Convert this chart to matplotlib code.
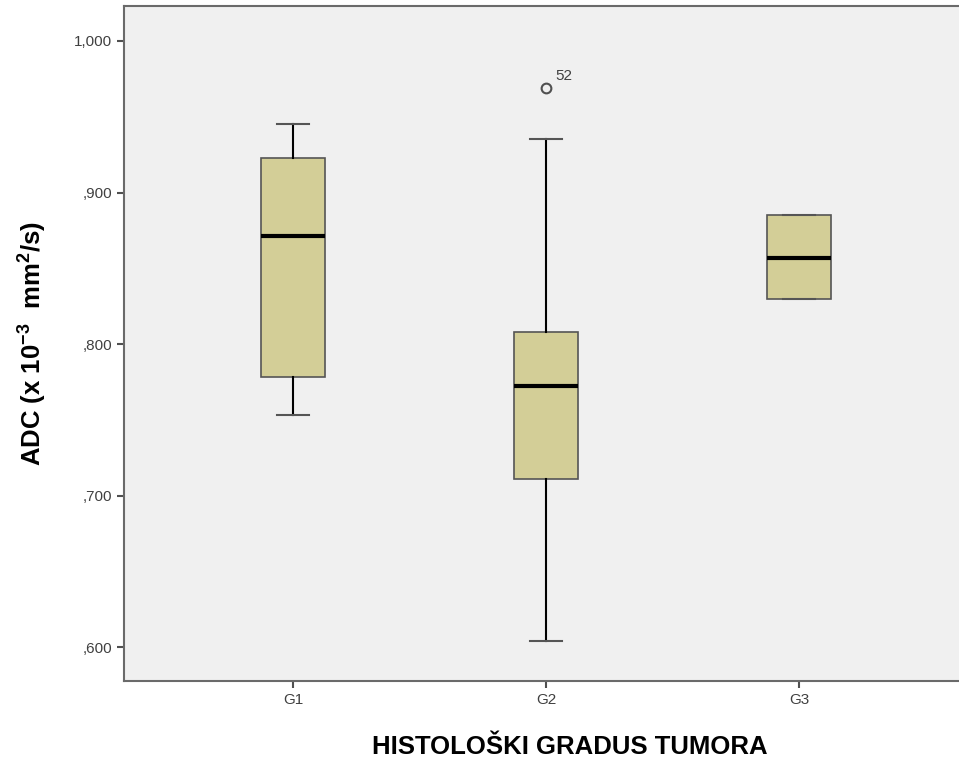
import matplotlib
matplotlib.use("Agg")
import matplotlib.pyplot as plt

categories = ["G1", "G2", "G3"]
whisker_low = [0.753, 0.604, 0.830]
q1 = [0.778, 0.711, 0.830]
median = [0.871, 0.772, 0.857]
q3 = [0.923, 0.808, 0.885]
whisker_high = [0.945, 0.935, 0.885]
outliers = [[], [0.969], []]
outlier_labels = [[], ["52"], []]
yticks = [0.6, 0.7, 0.8, 0.9, 1.0]
ytick_labels = [",600", ",700", ",800", ",900", "1,000"]

plt.rcParams['font.family'] = ['Liberation Sans', 'DejaVu Sans']
plt.rcParams['mathtext.fontset'] = 'custom'
plt.rcParams['mathtext.rm'] = 'Liberation Sans'
plt.rcParams['mathtext.bf'] = 'Liberation Sans:bold'
plt.rcParams['mathtext.default'] = 'bf'

W, H = 959, 761
ax_left, ax_right, ax_top, ax_bottom = 124, 1016, 6, 681

fig = plt.figure(figsize=(W/100, H/100), dpi=100)
ax = fig.add_axes([ax_left/W, (H-ax_bottom)/H, (ax_right-ax_left)/W, (ax_bottom-ax_top)/H])
ax.set_facecolor("#f0f0f0")

stats = []
for i, c in enumerate(categories):
    stats.append(dict(label=c, whislo=whisker_low[i], q1=q1[i], med=median[i],
                      q3=q3[i], whishi=whisker_high[i], fliers=outliers[i]))

positions = list(range(len(categories)))
ax.bxp(stats, positions=positions, widths=0.25, patch_artist=True,
       boxprops=dict(facecolor="#d3ce97", edgecolor="#555555", linewidth=1.2),
       medianprops=dict(color="black", linewidth=3),
       whiskerprops=dict(color="black", linewidth=1.5),
       capprops=dict(color="#555555", linewidth=1.5),
       capwidths=0.125,
       flierprops=dict(marker="o", markerfacecolor="none", markeredgecolor="#505050",
                       markersize=7, markeredgewidth=1.5))

for i, (vals, labs) in enumerate(zip(outliers, outlier_labels)):
    for v, l in zip(vals, labs):
        ax.annotate(l, (positions[i], v), xytext=(7, 6), textcoords="offset points",
                    fontsize=11, color="#404040")

px_per_cat = 253
x_left = (ax_left - 293) / px_per_cat
x_right = (ax_right - 293) / px_per_cat
ax.set_xlim(x_left, x_right)
ax.set_ylim(0.5776, 1.0231)
ax.set_yticks(yticks)
ax.set_yticklabels(ytick_labels, fontsize=11, color="#404040")
ax.set_xticks(positions)
ax.set_xticklabels(categories, fontsize=11, color="#404040")
ax.tick_params(axis="both", length=5, width=1.5, color="#505050")

for side in ["left", "bottom", "top", "right"]:
    ax.spines[side].set_color("#6a6a6a")
    ax.spines[side].set_linewidth(1.5)

ax.set_ylabel("ADC (x 10$^{-3}$  mm$^{2}$/s)", fontsize=18.5, fontweight="bold", labelpad=18)
ax.set_xlabel("HISTOLOŠKI GRADUS TUMORA", fontsize=18.5, fontweight="bold", labelpad=20)

fig.savefig("out.png", dpi=100)
